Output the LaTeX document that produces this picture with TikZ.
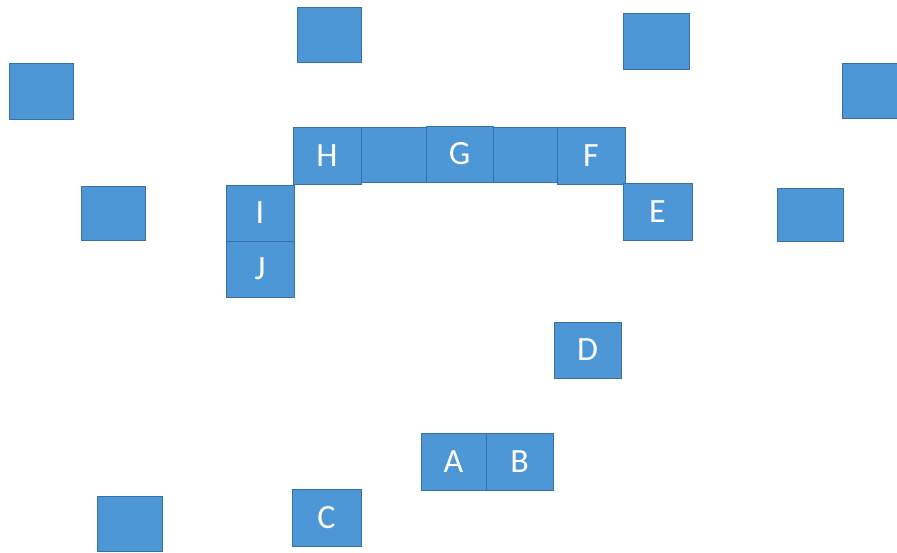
\documentclass[tikz,border=0pt]{standalone}
\usepackage{fontspec}
\setmainfont{Carlito}
\usepackage{tikz}
\usetikzlibrary{positioning}
\usepackage{xcolor}
\definecolor{tilefill}{RGB}{77,151,214}
\definecolor{tileedge}{RGB}{56,112,165}

\begin{document}
\begin{tikzpicture}[x=0.5pt, y=-0.5pt,
    tile/.style={fill=tilefill, draw=tileedge, line width=0.5pt, inner sep=0pt,
      text=white, font=\fontsize{17}{20}\selectfont}]
        \useasboundingbox (0,0) rectangle (897,552);
        % Empty tiles (left, top, right, bottom in px)
        \foreach \i/\a/\b/\c/\d in {1/9/63/73/119, 2/297/7/361/62, 3/623/13/689/69,
            4/842/63/906/118, 5/81/186/145/240, 6/777/188/843/241,
            7/97/496/162/551, 8/361/127/426/182, 9/493/127/557/182} {
          \node[tile, minimum width={(\c-\a)*0.5pt}, minimum height={(\d-\b)*0.5pt}]
            (u\i) at ({(\a+\c)/2},{(\b+\d)/2}) {};
        }
        % Lettered tiles
        \foreach \n/\a/\b/\c/\d in {H/293/127/361/184, G/426/126/493/182, F/557/127/625/184,
            E/623/183/692/240, I/226/185/294/241, J/226/241/294/297, D/554/322/621/378,
            A/421/433/486/490, B/486/433/553/490, C/292/489/361/546} {
          \node[tile, minimum width={(\c-\a)*0.5pt}, minimum height={(\d-\b)*0.5pt}]
            (\n) at ({(\a+\c)/2},{(\b+\d)/2}) {\n};
        }
      \end{tikzpicture}
\end{document}
